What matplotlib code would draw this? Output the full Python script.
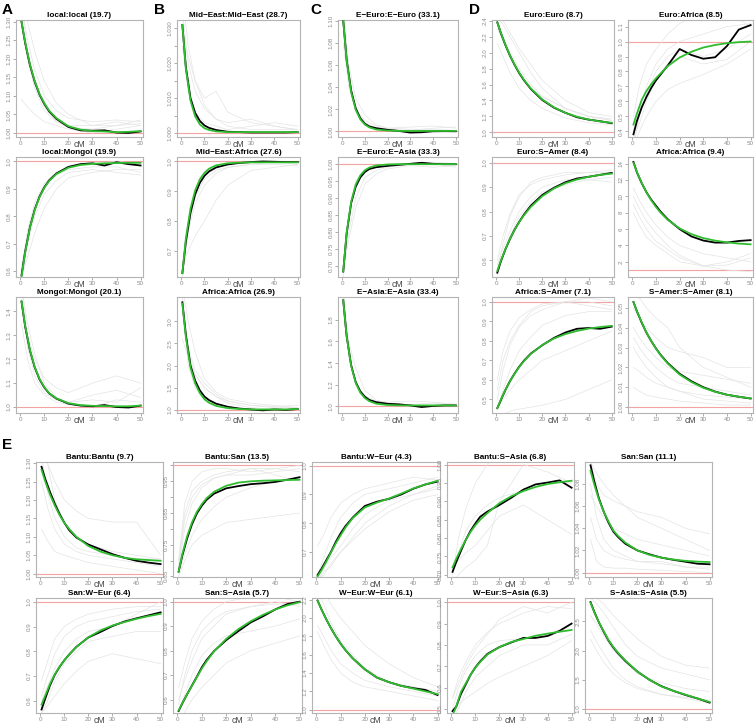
import matplotlib.pyplot as plt

plt.rcParams['font.family'] = ['Liberation Sans', 'DejaVu Sans']

W, H = 755, 727

# cM positions
xs = [0.5, 2, 4, 6, 8, 10, 12, 15, 20, 25, 30, 35, 40, 45, 50]
xg = [0.5, 3, 6, 10, 15, 20, 30, 40, 50]
xticks = [0, 10, 20, 30, 40, 50]

#### panel A
a1_title = 'local:local (19.7)'
a1_green = [1.300, 1.245, 1.185, 1.140, 1.105, 1.080, 1.060, 1.040, 1.018, 1.009, 1.005, 1.004, 1.002, 1.003, 1.005]
a1_black = [1.300, 1.243, 1.183, 1.138, 1.103, 1.078, 1.058, 1.038, 1.016, 1.007, 1.006, 1.007, 1.001, 1.000, 1.004]
a1_gray = [[1.35, 1.25, 1.17, 1.10, 1.06, 1.04, 1.03, 1.035, 1.03],
           [1.40, 1.30, 1.22, 1.14, 1.08, 1.05, 1.02, 1.02, 1.025],
           [1.09, 1.07, 1.05, 1.03, 1.02, 1.01, 1.00, 1.01, 1.02],
           [1.35, 1.22, 1.13, 1.07, 1.03, 1.015, 1.01, 1.02, 1.035],
           [1.30, 1.20, 1.12, 1.06, 1.03, 1.02, 1.02, 1.03, 1.02]]
a1_yt = [1.00, 1.05, 1.10, 1.15, 1.20, 1.25, 1.30]
a1_yl = ['1.00', '1.05', '1.10', '1.15', '1.20', '1.25', '1.30']

a2_title = 'local:Mongol (19.9)'
a2_green = [0.580, 0.668, 0.758, 0.823, 0.870, 0.904, 0.929, 0.954, 0.977, 0.987, 0.991, 0.993, 0.994, 0.995, 0.995]
a2_black = [0.585, 0.670, 0.760, 0.825, 0.872, 0.906, 0.931, 0.956, 0.980, 0.990, 0.993, 0.985, 0.997, 0.990, 0.985]
a2_gray = [[0.55, 0.70, 0.80, 0.88, 0.93, 0.96, 0.97, 0.96, 0.95],
           [0.60, 0.75, 0.85, 0.92, 0.96, 0.98, 0.99, 1.00, 0.99],
           [0.58, 0.65, 0.74, 0.83, 0.90, 0.94, 0.96, 0.97, 0.97],
           [0.62, 0.73, 0.83, 0.91, 0.95, 0.97, 0.98, 0.98, 0.96]]
a2_yt = [0.6, 0.7, 0.8, 0.9, 1.0]
a2_yl = ['0.6', '0.7', '0.8', '0.9', '1.0']

a3_title = 'Mongol:Mongol (20.1)'
a3_green = [1.443, 1.339, 1.238, 1.167, 1.117, 1.083, 1.058, 1.036, 1.016, 1.008, 1.005, 1.004, 1.003, 1.003, 1.006]
a3_black = [1.440, 1.337, 1.236, 1.165, 1.115, 1.081, 1.057, 1.035, 1.014, 1.006, 1.003, 1.008, 1.000, 0.998, 1.006]
a3_gray = [[1.50, 1.30, 1.20, 1.12, 1.08, 1.06, 1.10, 1.13, 1.10],
           [1.45, 1.25, 1.13, 1.06, 1.03, 1.02, 1.05, 1.07, 1.04],
           [1.35, 1.20, 1.10, 1.05, 1.02, 1.01, 1.00, 1.03, 1.02],
           [1.50, 1.35, 1.22, 1.10, 1.04, 1.02, 1.03, 1.02, 1.08]]
a3_yt = [1.0, 1.1, 1.2, 1.3, 1.4]
a3_yl = ['1.0', '1.1', '1.2', '1.3', '1.4']

#### panel B
b1_title = 'Mid\u2212East:Mid\u2212East (28.7)'
b1_green = [1.0310, 1.0185, 1.0093, 1.0048, 1.0025, 1.0014, 1.0009, 1.0005, 1.0003, 1.0003, 1.0003, 1.0003, 1.0003, 1.0003, 1.0003]
b1_black = [1.0310, 1.0190, 1.0100, 1.0058, 1.0035, 1.0022, 1.0015, 1.0009, 1.0004, 1.0003, 1.0002, 1.0002, 1.0002, 1.0002, 1.0003]
b1_gray = [[1.035, 1.020, 1.012, 1.007, 1.004, 1.002, 1.001, 1.001, 1.001],
           [1.030, 1.022, 1.015, 1.010, 1.012, 1.006, 1.003, 1.002, 1.001],
           [1.025, 1.012, 1.006, 1.003, 1.002, 1.001, 1.002, 1.003, 1.002],
           [1.040, 1.025, 1.015, 1.008, 1.004, 1.003, 1.004, 1.002, 1.001]]
b1_yt = [1.000, 1.005, 1.010, 1.015, 1.020, 1.025, 1.030]
b1_yl = ['1.000', '', '1.010', '', '1.020', '', '1.030']

b2_title = 'Mid\u2212East:Africa (27.6)'
b2_green = [0.625, 0.741, 0.842, 0.903, 0.940, 0.962, 0.976, 0.987, 0.994, 0.996, 0.997, 0.997, 0.997, 0.997, 0.997]
b2_black = [0.625, 0.730, 0.828, 0.890, 0.928, 0.952, 0.967, 0.980, 0.990, 0.995, 0.998, 1.000, 0.999, 0.998, 0.998]
b2_gray = [[0.65, 0.70, 0.75, 0.80, 0.87, 0.92, 0.97, 0.98, 0.99],
           [0.60, 0.80, 0.90, 0.95, 0.98, 0.99, 1.00, 1.00, 0.99],
           [0.63, 0.78, 0.88, 0.94, 0.97, 0.98, 0.99, 0.99, 0.985],
           [0.62, 0.76, 0.86, 0.92, 0.96, 0.98, 0.99, 1.00, 1.00]]
b2_yt = [0.7, 0.8, 0.9, 1.0]
b2_yl = ['0.7', '0.8', '0.9', '1.0']

b3_title = 'Africa:Africa (26.9)'
b3_green = [3.40, 2.65, 1.95, 1.60, 1.38, 1.24, 1.16, 1.09, 1.04, 1.02, 1.01, 1.01, 1.01, 1.01, 1.02]
b3_black = [3.43, 2.70, 2.00, 1.66, 1.44, 1.30, 1.22, 1.14, 1.07, 1.03, 1.01, 0.99, 1.01, 1.00, 1.02]
b3_gray = [[3.60, 2.30, 1.80, 1.50, 1.30, 1.20, 1.10, 1.05, 1.05],
           [3.20, 2.40, 1.90, 1.60, 1.35, 1.20, 1.10, 1.08, 1.10],
           [2.60, 2.20, 1.80, 1.50, 1.30, 1.15, 1.05, 1.02, 1.00],
           [3.50, 2.00, 1.50, 1.25, 1.10, 1.05, 1.02, 1.00, 1.03],
           [3.80, 3.00, 2.30, 1.70, 1.40, 1.25, 1.15, 1.10, 1.05]]
b3_yt = [1.0, 1.5, 2.0, 2.5, 3.0]
b3_yl = ['1.0', '1.5', '2.0', '2.5', '3.0']

#### panel C
c1_title = 'E\u2212Euro:E\u2212Euro (33.1)'
c1_green = [1.1005, 1.0643, 1.0355, 1.0197, 1.0110, 1.0063, 1.0037, 1.0018, 1.0008, 1.0005, 1.0005, 1.0005, 1.0005, 1.0005, 1.0005]
c1_black = [1.1005, 1.0650, 1.0370, 1.0210, 1.0120, 1.0070, 1.0045, 1.0030, 1.0015, 1.0005, 0.9990, 0.9993, 1.0002, 1.0003, 1.0002]
c1_gray = [[1.120, 1.050, 1.020, 1.010, 1.005, 1.003, 1.004, 1.005, 1.003],
           [1.080, 1.040, 1.020, 1.008, 1.003, 1.002, 1.001, 1.003, 1.004],
           [1.100, 1.060, 1.030, 1.015, 1.006, 1.003, 1.002, 1.002, 1.001]]
c1_yt = [1.00, 1.02, 1.04, 1.06, 1.08, 1.10]
c1_yl = ['1.00', '1.02', '1.04', '1.06', '1.08', '1.10']

c2_title = 'E\u2212Euro:E\u2212Asia (33.3)'
c2_green = [0.684, 0.798, 0.889, 0.939, 0.966, 0.981, 0.989, 0.995, 0.998, 0.999, 0.999, 0.999, 0.999, 0.999, 0.999]
c2_black = [0.684, 0.795, 0.885, 0.933, 0.960, 0.976, 0.985, 0.990, 0.994, 0.997, 1.000, 1.003, 1.000, 0.999, 0.999]
c2_gray = [[0.66, 0.85, 0.95, 0.98, 0.99, 1.00, 1.00, 1.00, 0.99],
           [0.70, 0.80, 0.90, 0.96, 0.98, 0.99, 1.00, 1.005, 1.00],
           [0.69, 0.78, 0.87, 0.94, 0.97, 0.985, 0.995, 0.99, 0.995]]
c2_yt = [0.70, 0.75, 0.80, 0.85, 0.90, 0.95, 1.00]
c2_yl = ['0.70', '0.75', '0.80', '0.85', '0.90', '0.95', '1.00']

c3_title = 'E\u2212Asia:E\u2212Asia (33.4)'
c3_green = [1.98, 1.647, 1.374, 1.218, 1.128, 1.078, 1.049, 1.026, 1.014, 1.011, 1.010, 1.010, 1.010, 1.010, 1.010]
c3_black = [1.98, 1.650, 1.380, 1.225, 1.140, 1.090, 1.060, 1.040, 1.025, 1.020, 1.010, 0.995, 1.005, 1.010, 1.010]
c3_gray = [[2.10, 1.50, 1.20, 1.08, 1.04, 1.02, 1.02, 1.03, 1.02],
           [1.90, 1.60, 1.35, 1.15, 1.06, 1.03, 1.00, 1.01, 1.00],
           [2.00, 1.45, 1.20, 1.10, 1.05, 1.04, 1.05, 1.04, 1.02]]
c3_yt = [1.0, 1.2, 1.4, 1.6, 1.8]
c3_yl = ['1.0', '1.2', '1.4', '1.6', '1.8']

#### panel D
d1_title = 'Euro:Euro (8.7)'
d1_green = [2.380, 2.250, 2.098, 1.964, 1.850, 1.748, 1.661, 1.551, 1.412, 1.314, 1.245, 1.196, 1.162, 1.137, 1.120]
d1_black = [2.380, 2.248, 2.095, 1.960, 1.845, 1.742, 1.655, 1.545, 1.405, 1.310, 1.245, 1.190, 1.160, 1.140, 1.115]
d1_gray = [[2.12, 1.95, 1.75, 1.55, 1.40, 1.30, 1.18, 1.12, 1.10],
           [2.50, 2.40, 2.25, 2.05, 1.85, 1.65, 1.40, 1.25, 1.20],
           [2.45, 2.35, 2.20, 2.00, 1.75, 1.55, 1.30, 1.20, 1.15],
           [2.30, 2.15, 1.95, 1.75, 1.55, 1.45, 1.30, 1.20, 1.17],
           [2.40, 2.20, 2.00, 1.80, 1.60, 1.45, 1.30, 1.20, 1.15]]
d1_yt = [1.0, 1.2, 1.4, 1.6, 1.8, 2.0, 2.2, 2.4]
d1_yl = ['1.0', '1.2', '1.4', '1.6', '1.8', '2.0', '2.2', '2.4']

d2_title = 'Euro:Africa (8.5)'
d2_green = [0.445, 0.520, 0.610, 0.670, 0.715, 0.754, 0.787, 0.836, 0.893, 0.932, 0.960, 0.977, 0.989, 0.996, 1.000]
d2_black = [0.380, 0.470, 0.560, 0.630, 0.690, 0.740, 0.780, 0.840, 0.950, 0.910, 0.885, 0.895, 0.970, 1.080, 1.110]
d2_gray = [[0.40, 0.55, 0.70, 0.85, 0.95, 1.00, 1.05, 1.10, 1.12],
           [0.30, 0.50, 0.65, 0.80, 0.90, 0.95, 0.90, 0.95, 1.05],
           [0.35, 0.45, 0.60, 0.75, 0.85, 0.90, 0.85, 0.88, 1.00],
           [0.50, 0.70, 0.85, 0.95, 1.05, 1.12, 1.20, 1.20, 1.10],
           [0.30, 0.40, 0.50, 0.60, 0.68, 0.72, 0.78, 0.85, 0.95]]
d2_yt = [0.4, 0.5, 0.6, 0.7, 0.8, 0.9, 1.0, 1.1]
d2_yl = ['0.4', '0.5', '0.6', '0.7', '0.8', '0.9', '1.0', '1.1']

d3_title = 'Euro:S\u2212Amer (8.4)'
d3_green = [0.557, 0.598, 0.646, 0.689, 0.725, 0.757, 0.784, 0.819, 0.863, 0.894, 0.916, 0.931, 0.942, 0.950, 0.955]
d3_black = [0.550, 0.595, 0.645, 0.688, 0.726, 0.758, 0.787, 0.824, 0.868, 0.897, 0.920, 0.935, 0.942, 0.950, 0.958]
d3_gray = [[0.56, 0.67, 0.78, 0.86, 0.92, 0.94, 0.96, 0.96, 0.97],
           [0.58, 0.65, 0.72, 0.80, 0.86, 0.90, 0.93, 0.93, 0.92],
           [0.54, 0.62, 0.70, 0.78, 0.84, 0.88, 0.91, 0.93, 0.94],
           [0.60, 0.70, 0.79, 0.87, 0.91, 0.93, 0.95, 0.96, 0.96]]
d3_yt = [0.6, 0.7, 0.8, 0.9, 1.0]
d3_yl = ['0.6', '0.7', '0.8', '0.9', '1.0']

d4_title = 'Africa:Africa (9.4)'
d4_green = [14.10, 12.95, 11.62, 10.49, 9.52, 8.70, 8.00, 7.13, 6.08, 5.38, 4.90, 4.59, 4.38, 4.23, 4.14]
d4_black = [14.20, 12.90, 11.60, 10.50, 9.60, 8.85, 8.12, 7.20, 6.00, 5.10, 4.60, 4.35, 4.35, 4.55, 4.65]
d4_gray = [[11.0, 9.5, 8.0, 6.5, 5.0, 4.0, 3.0, 2.5, 2.0],
           [10.0, 8.5, 7.0, 5.5, 4.0, 2.8, 1.5, 1.0, 0.8],
           [9.0, 7.5, 6.0, 4.5, 3.5, 2.5, 1.5, 1.6, 2.5],
           [8.0, 6.5, 5.0, 4.0, 3.0, 2.0, 1.5, 2.0, 3.0]]
d4_yt = [2, 4, 6, 8, 10, 12, 14]
d4_yl = ['2', '4', '6', '8', '10', '12', '14']

d5_title = 'Africa:S\u2212Amer (7.1)'
d5_green = [0.455, 0.498, 0.549, 0.594, 0.632, 0.666, 0.696, 0.733, 0.779, 0.812, 0.835, 0.851, 0.863, 0.871, 0.877]
d5_black = [0.455, 0.495, 0.548, 0.594, 0.633, 0.668, 0.698, 0.735, 0.778, 0.815, 0.843, 0.862, 0.866, 0.862, 0.873]
d5_gray = [[0.55, 0.70, 0.80, 0.88, 0.95, 0.98, 1.00, 1.00, 0.98],
           [0.50, 0.65, 0.78, 0.87, 0.93, 0.96, 1.00, 1.02, 1.00],
           [0.60, 0.75, 0.85, 0.92, 0.96, 0.99, 1.00, 0.98, 0.96],
           [0.45, 0.50, 0.55, 0.60, 0.65, 0.70, 0.75, 0.80, 0.85],
           [0.45, 0.55, 0.65, 0.75, 0.82, 0.88, 0.93, 0.95, 0.95],
           [0.40, 0.42, 0.44, 0.45, 0.46, 0.47, 0.50, 0.55, 0.60]]
d5_yt = [0.5, 0.6, 0.7, 0.8, 0.9, 1.0]
d5_yl = ['0.5', '0.6', '0.7', '0.8', '0.9', '1.0']

d6_title = 'S\u2212Amer:S\u2212Amer (8.1)'
d6_green = [1.0530, 1.0483, 1.0426, 1.0376, 1.0333, 1.0295, 1.0261, 1.0219, 1.0164, 1.0126, 1.0097, 1.0077, 1.0062, 1.0052, 1.0044]
d6_black = [1.0530, 1.0482, 1.0425, 1.0375, 1.0333, 1.0296, 1.0263, 1.0222, 1.0168, 1.0130, 1.0100, 1.0078, 1.0062, 1.0052, 1.0043]
d6_gray = [[1.035, 1.030, 1.025, 1.020, 1.015, 1.012, 1.010, 1.008, 1.006],
           [1.030, 1.025, 1.020, 1.015, 1.010, 1.008, 1.004, 1.003, 1.002],
           [1.060, 1.055, 1.050, 1.045, 1.040, 1.030, 1.020, 1.015, 1.010],
           [1.020, 1.018, 1.015, 1.012, 1.010, 1.008, 1.006, 1.005, 1.004],
           [1.050, 1.045, 1.040, 1.035, 1.030, 1.028, 1.025, 1.020, 1.020],
           [1.010, 1.008, 1.006, 1.005, 1.004, 1.003, 1.002, 1.001, 1.001],
           [1.040, 1.035, 1.030, 1.025, 1.020, 1.018, 1.016, 1.014, 1.012]]
d6_yt = [1.00, 1.01, 1.02, 1.03, 1.04, 1.05]
d6_yl = ['1.00', '1.01', '1.02', '1.03', '1.04', '1.05']

#### panel E, row 1
e1_title = 'Bantu:Bantu (9.7)'
e1_green = [1.282, 1.251, 1.215, 1.185, 1.159, 1.138, 1.121, 1.100, 1.075, 1.060, 1.050, 1.043, 1.039, 1.037, 1.035]
e1_black = [1.290, 1.258, 1.222, 1.190, 1.162, 1.138, 1.118, 1.098, 1.079, 1.066, 1.053, 1.043, 1.035, 1.030, 1.026]
e1_gray = [[1.12, 1.09, 1.06, 1.05, 1.04, 1.03, 1.02, 1.01, 1.00],
           [1.35, 1.30, 1.25, 1.20, 1.17, 1.15, 1.14, 1.14, 1.05],
           [1.25, 1.18, 1.12, 1.08, 1.06, 1.05, 1.04, 1.03, 1.02],
           [1.40, 1.30, 1.20, 1.14, 1.10, 1.08, 1.06, 1.05, 1.04],
           [1.32, 1.22, 1.15, 1.10, 1.07, 1.06, 1.05, 1.04, 1.04]]
e1_yt = [1.00, 1.05, 1.10, 1.15, 1.20, 1.25, 1.30]
e1_yl = ['1.00', '1.05', '1.10', '1.15', '1.20', '1.25', '1.30']

e2_title = 'Bantu:San (13.5)'
e2_green = [0.665, 0.720, 0.777, 0.821, 0.854, 0.878, 0.897, 0.917, 0.936, 0.946, 0.950, 0.952, 0.953, 0.954, 0.955]
e2_black = [0.665, 0.715, 0.770, 0.815, 0.849, 0.873, 0.892, 0.911, 0.928, 0.935, 0.941, 0.944, 0.948, 0.955, 0.963]
e2_gray = [[0.70, 0.88, 0.95, 0.98, 0.99, 0.99, 0.98, 0.99, 1.00],
           [0.68, 0.80, 0.88, 0.93, 0.96, 0.97, 0.97, 0.98, 0.99],
           [0.66, 0.72, 0.78, 0.83, 0.87, 0.90, 0.93, 0.95, 0.96],
           [0.65, 0.70, 0.75, 0.78, 0.80, 0.82, 0.83, 0.84, 0.85],
           [0.68, 0.83, 0.90, 0.94, 0.96, 0.97, 0.99, 0.99, 0.98],
           [0.70, 0.85, 0.92, 0.95, 0.97, 0.98, 0.99, 0.97, 0.95]]
e2_yt = [0.65, 0.70, 0.75, 0.80, 0.85, 0.90, 0.95, 1.00]
e2_yl = ['0.65', '', '0.75', '', '0.85', '', '0.95', '']

e3_title = 'Bantu:W\u2212Eur (4.3)'
e3_green = [0.615, 0.635, 0.665, 0.698, 0.730, 0.758, 0.785, 0.818, 0.855, 0.872, 0.886, 0.903, 0.921, 0.935, 0.948]
e3_black = [0.620, 0.640, 0.670, 0.700, 0.735, 0.765, 0.790, 0.820, 0.860, 0.875, 0.885, 0.900, 0.920, 0.935, 0.945]
e3_gray = [[0.72, 0.76, 0.82, 0.87, 0.90, 0.92, 0.94, 0.96, 0.95],
           [0.60, 0.64, 0.68, 0.72, 0.78, 0.83, 0.88, 0.90, 0.92],
           [0.60, 0.62, 0.66, 0.70, 0.75, 0.80, 0.86, 0.90, 0.93],
           [0.62, 0.68, 0.75, 0.82, 0.87, 0.90, 0.92, 0.94, 0.96],
           [0.60, 0.63, 0.65, 0.70, 0.74, 0.78, 0.84, 0.88, 0.90]]
e3_yt = [0.7, 0.8, 0.9, 1.0]
e3_yl = ['0.7', '0.8', '0.9', '1.0']

e4_title = 'Bantu:S\u2212Asia (6.8)'
e4_green = [0.720, 0.743, 0.770, 0.795, 0.817, 0.835, 0.850, 0.868, 0.895, 0.914, 0.928, 0.939, 0.947, 0.952, 0.956]
e4_black = [0.708, 0.734, 0.765, 0.795, 0.820, 0.840, 0.858, 0.872, 0.890, 0.910, 0.932, 0.946, 0.951, 0.957, 0.937]
e4_gray = [[0.70, 0.80, 0.88, 0.95, 1.00, 1.05, 1.05, 1.05, 1.05],
           [0.72, 0.74, 0.76, 0.78, 0.82, 0.86, 0.89, 0.85, 0.81],
           [0.68, 0.70, 0.72, 0.74, 0.78, 0.90, 1.00, 0.98, 0.95],
           [0.71, 0.76, 0.82, 0.86, 0.89, 0.91, 0.93, 0.95, 0.95]]
e4_yt = [0.70, 0.75, 0.80, 0.85, 0.90, 0.95, 1.00]
e4_yl = ['0.70', '0.75', '0.80', '0.85', '0.90', '0.95', '1.00']

e5_title = 'San:San (11.1)'
e5_green = [1.092, 1.080, 1.066, 1.055, 1.046, 1.038, 1.033, 1.027, 1.020, 1.016, 1.0135, 1.0118, 1.0106, 1.0099, 1.0095]
e5_black = [1.097, 1.083, 1.067, 1.055, 1.045, 1.037, 1.032, 1.026, 1.020, 1.0165, 1.0135, 1.0115, 1.0098, 1.0080, 1.0075]
e5_gray = [[1.10, 1.08, 1.07, 1.065, 1.06, 1.055, 1.05, 1.04, 1.035],
           [1.08, 1.05, 1.03, 1.02, 1.015, 1.01, 1.01, 1.005, 1.003],
           [1.05, 1.03, 1.02, 1.015, 1.012, 1.01, 1.008, 1.005, 1.005],
           [1.10, 1.09, 1.08, 1.07, 1.06, 1.05, 1.04, 1.03, 1.02],
           [1.03, 1.01, 1.005, 1.004, 1.004, 1.003, 1.002, 1.001, 1.00],
           [1.07, 1.06, 1.05, 1.04, 1.035, 1.03, 1.025, 1.02, 1.015]]
e5_yt = [1.00, 1.02, 1.04, 1.06, 1.08]
e5_yl = ['1.00', '1.02', '1.04', '1.06', '1.08']

#### panel E, row 2
e6_title = 'San:W\u2212Eur (6.4)'
e6_green = [0.585, 0.620, 0.668, 0.707, 0.738, 0.764, 0.787, 0.817, 0.857, 0.884, 0.904, 0.918, 0.931, 0.942, 0.951]
e6_black = [0.565, 0.608, 0.662, 0.705, 0.737, 0.764, 0.787, 0.818, 0.856, 0.878, 0.902, 0.920, 0.933, 0.945, 0.957]
e6_gray = [[0.68, 0.76, 0.85, 0.90, 0.93, 0.95, 0.97, 0.98, 0.98],
           [0.55, 0.60, 0.68, 0.75, 0.80, 0.84, 0.86, 0.88, 0.88],
           [0.60, 0.66, 0.73, 0.80, 0.85, 0.88, 0.90, 0.95, 1.00],
           [0.55, 0.58, 0.62, 0.67, 0.72, 0.76, 0.79, 0.77, 0.75],
           [0.62, 0.70, 0.79, 0.86, 0.90, 0.92, 0.94, 0.96, 0.97]]
e6_yt = [0.6, 0.7, 0.8, 0.9, 1.0]
e6_yl = ['0.6', '0.7', '0.8', '0.9', '1.0']

e7_title = 'San:S\u2212Asia (5.7)'
e7_green = [0.555, 0.585, 0.622, 0.657, 0.692, 0.727, 0.757, 0.797, 0.848, 0.888, 0.920, 0.946, 0.968, 0.985, 0.998]
e7_black = [0.553, 0.584, 0.622, 0.658, 0.694, 0.732, 0.762, 0.798, 0.843, 0.880, 0.915, 0.940, 0.968, 0.990, 1.000]
e7_gray = [[0.65, 0.75, 0.85, 0.92, 0.97, 1.00, 1.02, 1.02, 1.00],
           [0.55, 0.62, 0.70, 0.78, 0.83, 0.86, 0.88, 0.90, 0.93],
           [0.60, 0.68, 0.76, 0.85, 0.90, 0.95, 0.98, 1.00, 0.98],
           [0.50, 0.55, 0.60, 0.65, 0.70, 0.75, 0.80, 0.83, 0.86],
           [0.58, 0.70, 0.80, 0.88, 0.93, 0.96, 0.98, 0.99, 0.99]]
e7_yt = [0.6, 0.7, 0.8, 0.9, 1.0]
e7_yl = ['0.6', '0.7', '0.8', '0.9', '1.0']

e8_title = 'W\u2212Eur:W\u2212Eur (6.1)'
e8_green = [2.19, 2.10, 1.99, 1.89, 1.80, 1.72, 1.65, 1.56, 1.44, 1.35, 1.30, 1.26, 1.23, 1.20, 1.17]
e8_black = [2.19, 2.10, 1.99, 1.89, 1.80, 1.72, 1.65, 1.56, 1.44, 1.35, 1.30, 1.26, 1.235, 1.215, 1.16]
e8_gray = [[1.92, 1.80, 1.65, 1.50, 1.40, 1.32, 1.25, 1.20, 1.15],
           [2.30, 2.15, 1.95, 1.75, 1.60, 1.45, 1.30, 1.25, 1.20],
           [1.85, 1.70, 1.55, 1.40, 1.30, 1.25, 1.20, 1.15, 1.10],
           [2.40, 2.30, 2.15, 2.00, 1.85, 1.70, 1.50, 1.35, 1.25]]
e8_yt = [1.0, 1.2, 1.4, 1.6, 1.8, 2.0, 2.2]
e8_yl = ['1.0', '1.2', '1.4', '1.6', '1.8', '2.0', '2.2']

e9_title = 'W\u2212Eur:S\u2212Asia (6.3)'
e9_green = [0.470, 0.510, 0.580, 0.620, 0.660, 0.694, 0.720, 0.755, 0.790, 0.814, 0.828, 0.843, 0.853, 0.862, 0.870]
e9_black = [0.490, 0.510, 0.570, 0.615, 0.660, 0.695, 0.723, 0.758, 0.790, 0.812, 0.833, 0.833, 0.842, 0.866, 0.900]
e9_gray = [[0.55, 0.62, 0.70, 0.78, 0.85, 0.92, 0.98, 0.95, 1.00],
           [0.50, 0.60, 0.68, 0.75, 0.80, 0.82, 0.83, 0.85, 0.87],
           [0.50, 0.52, 0.55, 0.58, 0.62, 0.65, 0.70, 0.75, 0.82],
           [0.45, 0.50, 0.58, 0.65, 0.70, 0.75, 0.80, 0.80, 0.85],
           [0.55, 0.65, 0.72, 0.80, 0.86, 0.90, 0.95, 0.98, 0.97]]
e9_yt = [0.5, 0.6, 0.7, 0.8, 0.9, 1.0]
e9_yl = ['0.5', '0.6', '0.7', '0.8', '0.9', '1.0']

e10_title = 'S\u2212Asia:S\u2212Asia (5.5)'
e10_green = [2.82, 2.66, 2.48, 2.33, 2.18, 2.06, 1.96, 1.83, 1.64, 1.50, 1.385, 1.31, 1.245, 1.18, 1.12]
e10_black = [2.83, 2.67, 2.48, 2.32, 2.17, 2.05, 1.95, 1.82, 1.64, 1.50, 1.39, 1.31, 1.24, 1.18, 1.11]
e10_gray = [[2.35, 2.15, 1.95, 1.70, 1.50, 1.38, 1.25, 1.20, 1.15],
            [2.20, 2.00, 1.80, 1.60, 1.45, 1.35, 1.25, 1.18, 1.10],
            [2.90, 2.80, 2.65, 2.40, 2.10, 1.90, 1.70, 1.60, 1.50],
            [3.00, 2.90, 2.80, 2.60, 2.40, 2.20, 1.90, 1.75, 1.70],
            [2.60, 2.45, 2.25, 2.00, 1.80, 1.60, 1.45, 1.35, 1.30]]
e10_yt = [1.0, 1.5, 2.0, 2.5]
e10_yl = ['1.0', '1.5', '2.0', '2.5']


fig = plt.figure(figsize=(W / 100, H / 100), dpi=100)


def panel(box, title, green, black, grays, ylim, yt, yl):
    l, t, r, b = box
    ax = fig.add_axes([l / W, 1 - b / H, (r - l) / W, (b - t) / H])
    ax.axhline(1.0, color='#f4a3a3', lw=0.8, zorder=1)
    for g in grays:
        ax.plot(xg, g, color='#e4e4e4', lw=0.5, zorder=2)
    ax.plot(xs, black, color='black', lw=1.3, zorder=3)
    ax.plot(xs, green, color='#2fbd2f', lw=1.3, zorder=4)
    ax.set_xlim(-1.8, 51.0)
    ax.set_ylim(*ylim)
    ax.set_xticks(xticks)
    ax.set_xticklabels([str(v) for v in xticks])
    ax.set_yticks(yt)
    ax.set_yticklabels(yl, rotation=90, va='center')
    ax.tick_params(length=2, width=0.5, colors='#8c8c8c', labelsize=4.5, pad=1.2)
    for s in ax.spines.values():
        s.set_color('#b4b4b4')
        s.set_linewidth(0.8)
    ax.set_title(title, fontsize=5.9, fontweight='bold', pad=2.5)
    ax.text(0.5, -0.022, 'cM', transform=ax.transAxes, ha='center', va='top',
            fontsize=6.3, color='#444444')
    return ax


top_cols = [(16, 143), (177, 300), (338, 458), (492, 614), (628, 753)]
top_rows = [(20, 137), (157, 277), (297, 413)]
bot_cols = [(36, 163), (173, 302), (312, 440), (447, 574), (585, 712)]
bot_rows = [(462, 577), (598, 713)]

def box(cols, rows, c, r):
    return (cols[c][0], rows[r][0], cols[c][1], rows[r][1])

panel(box(top_cols, top_rows, 0, 0), a1_title, a1_green, a1_black, a1_gray, (0.989, 1.305), a1_yt, a1_yl)
panel(box(top_cols, top_rows, 0, 1), a2_title, a2_green, a2_black, a2_gray, (0.578, 1.016), a2_yt, a2_yl)
panel(box(top_cols, top_rows, 0, 2), a3_title, a3_green, a3_black, a3_gray, (0.975, 1.46), a3_yt, a3_yl)
panel(box(top_cols, top_rows, 1, 0), b1_title, b1_green, b1_black, b1_gray, (0.9989, 1.0324), b1_yt, b1_yl)
panel(box(top_cols, top_rows, 1, 1), b2_title, b2_green, b2_black, b2_gray, (0.612, 1.015), b2_yt, b2_yl)
panel(box(top_cols, top_rows, 1, 2), b3_title, b3_green, b3_black, b3_gray, (0.93, 3.55), b3_yt, b3_yl)
panel(box(top_cols, top_rows, 2, 0), c1_title, c1_green, c1_black, c1_gray, (0.995, 1.101), c1_yt, c1_yl)
panel(box(top_cols, top_rows, 2, 1), c2_title, c2_green, c2_black, c2_gray, (0.668, 1.02), c2_yt, c2_yl)
panel(box(top_cols, top_rows, 2, 2), c3_title, c3_green, c3_black, c3_gray, (0.94, 2.01), c3_yt, c3_yl)
panel(box(top_cols, top_rows, 3, 0), d1_title, d1_green, d1_black, d1_gray, (0.942, 2.41), d1_yt, d1_yl)
panel(box(top_cols, top_rows, 4, 0), d2_title, d2_green, d2_black, d2_gray, (0.362, 1.144), d2_yt, d2_yl)
panel(box(top_cols, top_rows, 3, 1), d3_title, d3_green, d3_black, d3_gray, (0.532, 1.023), d3_yt, d3_yl)
panel(box(top_cols, top_rows, 4, 1), d4_title, d4_green, d4_black, d4_gray, (0.15, 14.8), d4_yt, d4_yl)
panel(box(top_cols, top_rows, 3, 2), d5_title, d5_green, d5_black, d5_gray, (0.43, 1.025), d5_yt, d5_yl)
panel(box(top_cols, top_rows, 4, 2), d6_title, d6_green, d6_black, d6_gray, (0.997, 1.0555), d6_yt, d6_yl)

panel(box(bot_cols, bot_rows, 0, 0), e1_title, e1_green, e1_black, e1_gray, (0.991, 1.303), e1_yt, e1_yl)
panel(box(bot_cols, bot_rows, 1, 0), e2_title, e2_green, e2_black, e2_gray, (0.648, 1.011), e2_yt, e2_yl)
panel(box(bot_cols, bot_rows, 2, 0), e3_title, e3_green, e3_black, e3_gray, (0.613, 1.013), e3_yt, e3_yl)
panel(box(bot_cols, bot_rows, 3, 0), e4_title, e4_green, e4_black, e4_gray, (0.694, 1.007), e4_yt, e4_yl)
panel(box(bot_cols, bot_rows, 4, 0), e5_title, e5_green, e5_black, e5_gray, (0.996, 1.10), e5_yt, e5_yl)
panel(box(bot_cols, bot_rows, 0, 1), e6_title, e6_green, e6_black, e6_gray, (0.551, 1.015), e6_yt, e6_yl)
panel(box(bot_cols, bot_rows, 1, 1), e7_title, e7_green, e7_black, e7_gray, (0.545, 1.015), e7_yt, e7_yl)
panel(box(bot_cols, bot_rows, 2, 1), e8_title, e8_green, e8_black, e8_gray, (0.964, 2.218), e8_yt, e8_yl)
panel(box(bot_cols, bot_rows, 3, 1), e9_title, e9_green, e9_black, e9_gray, (0.481, 1.02), e9_yt, e9_yl)
panel(box(bot_cols, bot_rows, 4, 1), e10_title, e10_green, e10_black, e10_gray, (0.932, 2.90), e10_yt, e10_yl)

# panel letters
for letter, px, py in [('A', 2, 3), ('B', 154, 3), ('C', 310, 3), ('D', 469, 3), ('E', 2, 438)]:
    fig.text(px / W, 1 - py / H, letter, fontsize=11, fontweight='bold', va='top', ha='left')

fig.savefig('out.png', dpi=100)
